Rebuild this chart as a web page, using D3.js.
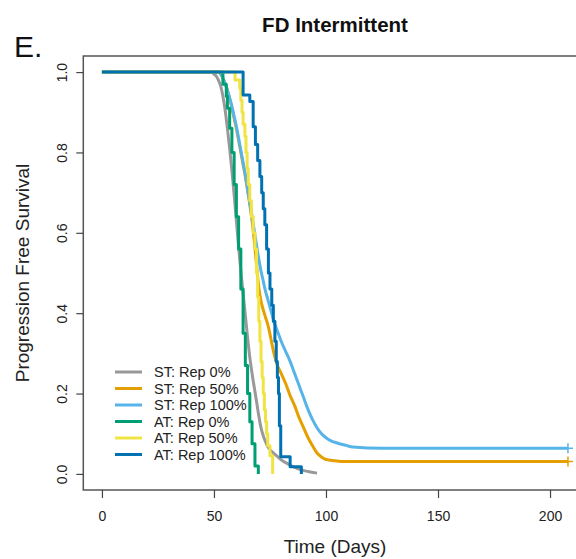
<!DOCTYPE html>
<html>
<head>
<meta charset="utf-8">
<script src="https://cdn.jsdelivr.net/npm/d3@7"></script>
<style>
  body { margin: 0; background: #fff; }
  text { font-family: "Liberation Sans", Arial, sans-serif; }
</style>
</head>
<body>
<svg></svg>
<script>
/* Kaplan-Meier curves, FD Intermittent */
var w = 576, h = 559;

var svg = d3.select("svg")
            .attr("width", w)
            .attr("height", h);

// [time (days), progression free survival]
var st_rep0 = [[0,1],[49,1],[50,0.995],[51,0.99],[52,0.98],[53,0.965],[54,0.94],[55,0.905],[56,0.86],[57,0.81],[58,0.755],[59,0.695],
  [60,0.63],[61,0.565],[62,0.505],[63,0.45],[64,0.395],[65,0.34],[66,0.29],[67,0.25],[68,0.215],[69,0.18],[70,0.145],
  [71,0.115],[72,0.095],[73,0.08],[74,0.068],[76,0.055],[78,0.045],[80,0.035],[83,0.025],[86,0.016],[89,0.01],[92,0.006],[96,0.002]];
var st_rep50 = [[0,1],[52,1],[53,0.995],[54,0.985],[55,0.972],[56,0.955],[57,0.935],[58,0.91],[59,0.885],[60,0.86],
  [61,0.83],[62,0.8],[63,0.77],[64,0.74],[65,0.705],[66,0.67],[67,0.63],[68,0.58],[69,0.52],[70,0.465],[71,0.43],
  [72,0.408],[73,0.39],[74,0.372],[75,0.348],[76,0.32],[77,0.295],[78,0.275],[80,0.25],[82,0.225],[84,0.195],[86,0.17],
  [88,0.14],[90,0.115],[92,0.09],[94,0.07],[96,0.052],[98,0.042],[100,0.036],[104,0.033],[108,0.031],[208,0.031]];
var st_rep100 = [[0,1],[52,1],[53,0.995],[54,0.985],[55,0.97],[56,0.955],[57,0.935],[58,0.915],[59,0.89],[60,0.865],[61,0.835],
  [62,0.805],[63,0.775],[64,0.745],[65,0.71],[66,0.675],[67,0.64],[68,0.605],[69,0.57],[70,0.535],[71,0.505],[72,0.48],
  [73,0.455],[74,0.435],[75,0.415],[76,0.395],[77,0.375],[78,0.36],[79,0.345],[80,0.33],[82,0.305],[84,0.28],[86,0.25],
  [88,0.22],[90,0.19],[92,0.16],[94,0.135],[96,0.115],[98,0.1],[100,0.09],[102,0.083],[105,0.077],[109,0.071],[112,0.067],
  [125,0.064],[208,0.064]];
var at_rep0 = [[0,1],[54,0.97],[55.5,0.94],[56,0.91],[57,0.86],[58,0.8],[59,0.72],[60,0.64],[61,0.56],[62,0.46],[63,0.35],
  [64,0.27],[65,0.2],[66,0.13],[67,0.075],[68.3,0.02],[69.8,0]];
var at_rep50 = [[0,1],[59.4,0.98],[61.5,0.96],[62,0.93],[62.5,0.9],[63,0.87],[63.8,0.84],[64.3,0.8],[64.8,0.76],[65.3,0.72],
  [66,0.68],[66.7,0.64],[67.5,0.6],[68.3,0.56],[69,0.5],[69.5,0.44],[70,0.38],[70.5,0.33],[71,0.28],[71.5,0.24],[72,0.2],
  [72.5,0.16],[73,0.13],[73.5,0.1],[74,0.07],[75,0.045],[76.2,0]];
var at_rep100 = [[0,1],[63,0.943],[66,0.927],[67.5,0.864],[68.5,0.82],[69.5,0.78],[70.5,0.74],[71.3,0.7],[72,0.66],
  [72.7,0.62],[73.5,0.56],[74.3,0.5],[75,0.46],[75.8,0.42],[76.5,0.38],[77.2,0.33],[77.8,0.28],[78.3,0.24],[78.8,0.2],
  [79.2,0.12],[79.8,0.043],[84,0.018],[89,0]];

var series_names = ["ST: Rep 0%", "ST: Rep 50%", "ST: Rep 100%", "AT: Rep 0%", "AT: Rep 50%", "AT: Rep 100%"];
var series_data = [st_rep0, st_rep50, st_rep100, at_rep0, at_rep50, at_rep100];
var censored = [false, true, true, false, false, false];
// ST arms have many events, so their curves look smooth
var smooth = [true, true, true, false, false, false];
var colors = ["#999999", "#E69F00", "#56B4E9", "#009E73", "#F0E442", "#0072B2"];

var x_ticks = [0, 50, 100, 150, 200];
var y_ticks = [0, 0.2, 0.4, 0.6, 0.8, 1.0];

// R style: 4% padding around the data range
var x = d3.scaleLinear().domain([-8.32, 216.32]).range([83.3, 586.6]);
var y = d3.scaleLinear().domain([-0.04, 1.04]).range([490, 56]);

// box
svg.append("rect")
   .attr("x", x(-8.32)).attr("y", y(1.04))
   .attr("width", x(216.32) - x(-8.32))
   .attr("height", y(-0.04) - y(1.04))
   .attr("fill", "none")
   .attr("stroke", "#555")
   .attr("stroke-width", 1.5);

var xAxis = svg.append("g")
   .attr("transform", "translate(0," + y(-0.04) + ")")
   .call(d3.axisBottom(x).tickValues(x_ticks).tickSize(8).tickSizeOuter(0).tickPadding(13));
xAxis.select(".domain").remove();
xAxis.selectAll("line").attr("stroke", "#444").attr("stroke-width", 1.2);
xAxis.selectAll("text").attr("font-size", 14).attr("fill", "#222")
     .attr("font-family", "Liberation Sans, Arial, sans-serif");

var yAxis = svg.append("g")
   .attr("transform", "translate(" + x(-8.32) + ",0)")
   .call(d3.axisLeft(y).tickValues(y_ticks).tickSize(7).tickSizeOuter(0).tickFormat(d3.format(".1f")));
yAxis.select(".domain").remove();
yAxis.selectAll("line").attr("stroke", "#444").attr("stroke-width", 1.2);
yAxis.selectAll("text").remove();
yAxis.selectAll(".tick").append("text")
     .attr("transform", "translate(-21,0) rotate(-90)")
     .attr("text-anchor", "middle")
     .attr("dy", "0.35em")
     .attr("font-size", 14)
     .attr("fill", "#222")
     .text(function(d) { return d3.format(".1f")(d); });

// curves
var stepLine = d3.line()
             .x(function(d) { return x(d[0]); })
             .y(function(d) { return y(d[1]); })
             .curve(d3.curveStepAfter);
var smoothLine = d3.line()
             .x(function(d) { return x(d[0]); })
             .y(function(d) { return y(d[1]); })
             .curve(d3.curveMonotoneX);

svg.append("g")
   .selectAll("path")
   .data(series_data)
   .enter()
   .append("path")
   .attr("d", function(d, i) { return smooth[i] ? smoothLine(d) : stepLine(d); })
   .attr("fill", "none")
   .attr("stroke", function(d, i) { return colors[i]; })
   .attr("stroke-width", 3)
   .attr("stroke-linejoin", "round");

// censor marks at the end of the long curves
series_data.forEach(function(d, i) {
  if (!censored[i]) return;
  var last = d[d.length - 1];
  var px = x(last[0]), py = y(last[1]);
  svg.append("path")
     .attr("d", "M" + (px - 5) + "," + py + "H" + (px + 5) + "M" + px + "," + (py - 5) + "V" + (py + 5))
     .attr("stroke", colors[i])
     .attr("stroke-width", 1.5);
});

// legend
var legend = svg.append("g").attr("class", "legend");
series_names.forEach(function(name, i) {
  var ly = 372 + i * 16.5;
  legend.append("line")
        .attr("x1", 115).attr("x2", 142)
        .attr("y1", ly).attr("y2", ly)
        .attr("stroke", colors[i])
        .attr("stroke-width", 3);
  legend.append("text")
        .attr("x", 154).attr("y", ly)
        .attr("dy", "0.36em")
        .attr("font-size", 14.5)
        .attr("fill", "#222")
        .text(name);
});

// titles
svg.append("text")
   .attr("x", 335).attr("y", 32)
   .attr("text-anchor", "middle")
   .attr("font-size", 20.5)
   .attr("font-weight", "bold")
   .attr("fill", "#111")
   .text("FD Intermittent");

svg.append("text")
   .attr("x", 335).attr("y", 553)
   .attr("text-anchor", "middle")
   .attr("font-size", 19)
   .attr("fill", "#222")
   .text("Time (Days)");

svg.append("text")
   .attr("transform", "translate(29,273) rotate(-90)")
   .attr("text-anchor", "middle")
   .attr("font-size", 19)
   .attr("fill", "#222")
   .text("Progression Free Survival");

svg.append("text")
   .attr("x", 14).attr("y", 57)
   .attr("font-size", 30)
   .attr("font-family", "Lato, sans-serif")
   .attr("font-weight", 300)
   .attr("fill", "#111")
   .text("E.");
</script>
</body>
</html>
